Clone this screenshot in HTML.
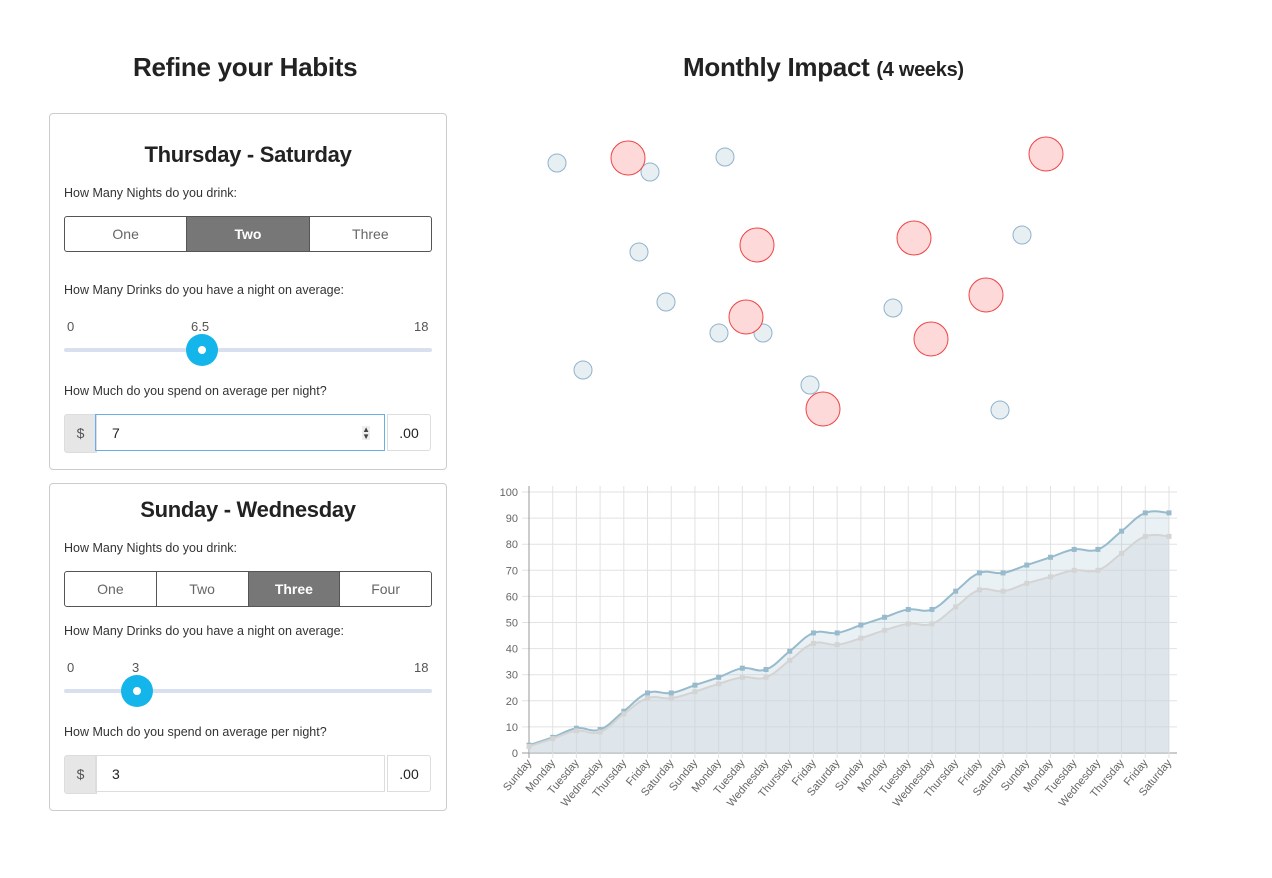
<!DOCTYPE html>
<html><head><meta charset="utf-8">
<style>
body{margin:0;width:1272px;height:878px;background:#fff;font-family:"Liberation Sans",sans-serif;color:#222;position:relative;overflow:hidden}
.abs{position:absolute}
h1{position:absolute;margin:0;font-size:26px;font-weight:bold;color:#222;white-space:nowrap;letter-spacing:-0.3px}
.panel{position:absolute;left:49px;width:396px;border:1px solid #ccc;border-radius:4px;background:#fff}
.ptitle{position:absolute;left:0;width:396px;text-align:center;font-size:22px;font-weight:bold;color:#222;letter-spacing:-0.3px}
.lbl{position:absolute;left:14px;font-size:12.5px;color:#333}
.bg{position:absolute;left:14px;width:366px;height:34px;border:1px solid #555;border-radius:3px;display:flex;overflow:hidden}
.bg div{flex:1;text-align:center;line-height:34px;font-size:14px;color:#666;border-left:1px solid #555}
.bg div:first-child{border-left:none}
.bg div.on{background:#777;color:#fff;font-weight:bold}
.track{position:absolute;left:14px;width:368px;height:4px;background:#d8e0f0;border-radius:2px}
.thumb{position:absolute;width:32px;height:32px;border-radius:50%;background:#13b5ea}
.thumb:after{content:"";position:absolute;left:12px;top:12px;width:8px;height:8px;border-radius:50%;background:#fff}
.num{position:absolute;font-size:13px;color:#555}
.addon{position:absolute;left:14px;width:31px;height:37px;background:#e6e6e6;border:1px solid #ddd;border-radius:3px 0 0 3px;text-align:center;line-height:37px;color:#555;font-size:14px}
.inp{position:absolute;left:45px;width:290px;height:37px;border:1px solid #ddd;font-size:14px;line-height:37px;box-sizing:border-box;padding-left:16px}
.cents{position:absolute;left:337px;width:44px;height:37px;border:1px solid #ddd;border-radius:0 3px 3px 0;text-align:center;line-height:37px;font-size:14px;box-sizing:border-box}
</style></head><body>
<h1 style="left:133px;top:52px">Refine your Habits</h1>
<h1 style="left:683px;top:52px">Monthly Impact <span style="font-size:20px">(4 weeks)</span></h1>

<div class="panel" style="top:113px;height:355px">
 <div class="ptitle" style="top:28px">Thursday - Saturday</div>
 <div class="lbl" style="top:72px">How Many Nights do you drink:</div>
 <div class="bg" style="top:102px">
  <div>One</div><div class="on">Two</div><div>Three</div>
 </div>
 <div class="lbl" style="top:169px">How Many Drinks do you have a night on average:</div>
 <div class="num" style="left:17px;top:205px">0</div>
 <div class="num" style="left:141px;top:205px">6.5</div>
 <div class="num" style="left:364px;top:205px">18</div>
 <div class="track" style="top:234px"></div>
 <div class="thumb" style="left:136px;top:220px"></div>
 <div class="lbl" style="top:270px">How Much do you spend on average per night?</div>
 <div class="addon" style="top:300px">$</div>
 <div class="inp" style="top:300px;border-color:#66afe9;border-radius:0">7<span style="position:absolute;right:14px;top:11px;font-size:8px;line-height:7px;color:#444;background:#eee">▲<br>▼</span></div>
 <div class="cents" style="top:300px">.00</div>
</div>

<div class="panel" style="top:483px;height:326px">
 <div class="ptitle" style="top:13px">Sunday - Wednesday</div>
 <div class="lbl" style="top:57px">How Many Nights do you drink:</div>
 <div class="bg" style="top:87px">
  <div>One</div><div>Two</div><div class="on">Three</div><div>Four</div>
 </div>
 <div class="lbl" style="top:140px">How Many Drinks do you have a night on average:</div>
 <div class="num" style="left:17px;top:176px">0</div>
 <div class="num" style="left:82px;top:176px">3</div>
 <div class="num" style="left:364px;top:176px">18</div>
 <div class="track" style="top:205px"></div>
 <div class="thumb" style="left:71px;top:191px"></div>
 <div class="lbl" style="top:241px">How Much do you spend on average per night?</div>
 <div class="addon" style="top:271px">$</div>
 <div class="inp" style="top:271px">3</div>
 <div class="cents" style="top:271px">.00</div>
</div>

<svg id="bub" class="abs" style="left:0;top:0" width="1272" height="460"></svg>
<svg id="ch" class="abs" style="left:0;top:0" width="1272" height="878"></svg>

<script>
const blueX=[557,650,725,639,666,719,763,583,810,893,1022,1000];
const blueY=[163,172,157,252,302,333,333,370,385,308,235,410];
const redX=[628,1046,757,914,746,986,931,823];
const redY=[158,154,245,238,317,295,339,409];
const days=["Sunday","Monday","Tuesday","Wednesday","Thursday","Friday","Saturday"];
const categories=[].concat(days,days,days,days);
const seriesBlue=[3,6,9.5,9,16,23,23,26,29,32.5,32,39,46,46,49,52,55,55,62,69,69,72,75,78,78,85,92,92];
const seriesGray=[2.5,5.5,8.5,8,15,21,21,23.5,26.5,29,29,35.5,42,41.5,44,47,49.5,49.5,56,62.5,62,65,67.5,70,70,76.5,83,83];
const yTicks=[0,10,20,30,40,50,60,70,80,90,100];

const NS="http://www.w3.org/2000/svg";
function mk(p,t,a){const e=document.createElementNS(NS,t);for(const k in a)e.setAttribute(k,a[k]);p.appendChild(e);return e;}
const bub=document.getElementById('bub');
blueX.forEach((x,i)=>{const c=mk(bub,'circle',{cx:x,cy:blueY[i],r:9,fill:'#e8eff3',stroke:'#8fb3cc','stroke-width':1});

});
redX.forEach((x,i)=>{const c=mk(bub,'circle',{cx:x,cy:redY[i],r:17,fill:'#fdd9da',stroke:'#ee4444','stroke-width':1});

});

const svg=document.getElementById('ch');
const X0=529,X1=1169,Y0=753,Y1=492,R=1177;
const xs=i=>X0+(X1-X0)*i/(categories.length-1);
const ys=v=>Y0-(Y0-Y1)*v/100;
yTicks.forEach(t=>{const y=ys(t);
 const l=mk(svg,'line',{x1:522,x2:R,y1:y,y2:y,stroke:t===0?'#999':'#e2e2e2'});
 
 
 const tx=mk(svg,'text',{x:518,y:y+4,'text-anchor':'end','font-size':11,fill:'#666','font-family':'Liberation Sans, sans-serif'});tx.textContent=t;
 
 });
categories.forEach((c,i)=>{const x=xs(i);
 const l=mk(svg,'line',{x1:x,x2:x,y1:486,y2:Y0+5,stroke:i===0?'#999':'#e2e2e2'});
 
 
 const tx=mk(svg,'text',{x:x+3,y:Y0+10,'text-anchor':'end','font-size':11,fill:'#666','font-family':'Liberation Sans, sans-serif',transform:`rotate(-50 ${x+3} ${Y0+10})`});tx.textContent=c;
 
 });
function path(vals){const p=vals.map((v,i)=>[xs(i),ys(v)]);let d=`M${p[0][0]},${p[0][1]}`;const t=0.2;
 for(let i=0;i<p.length-1;i++){const p0=p[Math.max(0,i-1)],p1=p[i],p2=p[i+1],p3=p[Math.min(p.length-1,i+2)];
 d+=` C${p1[0]+(p2[0]-p0[0])*t},${p1[1]+(p2[1]-p0[1])*t} ${p2[0]-(p3[0]-p1[0])*t},${p2[1]-(p3[1]-p1[1])*t} ${p2[0]},${p2[1]}`;}return d;}
function series(vals,stroke,fill,name){const d=path(vals);
 const a=mk(svg,'path',{d:d+` L${xs(vals.length-1)},${Y0} L${X0},${Y0} Z`,fill:fill});
 
 
 const l=mk(svg,'path',{d:d,fill:'none',stroke:stroke,'stroke-width':2});
 
 
 vals.forEach((v,i)=>{const r=mk(svg,'rect',{x:xs(i)-2.5,y:ys(v)-2.5,width:5,height:5,fill:stroke});
 
 });}
series(seriesBlue,'#97bbcd','rgba(151,187,205,0.2)','blue-series');
series(seriesGray,'#d4d4d4','rgba(210,220,225,0.5)','gray-series');
</script>
</body></html>
